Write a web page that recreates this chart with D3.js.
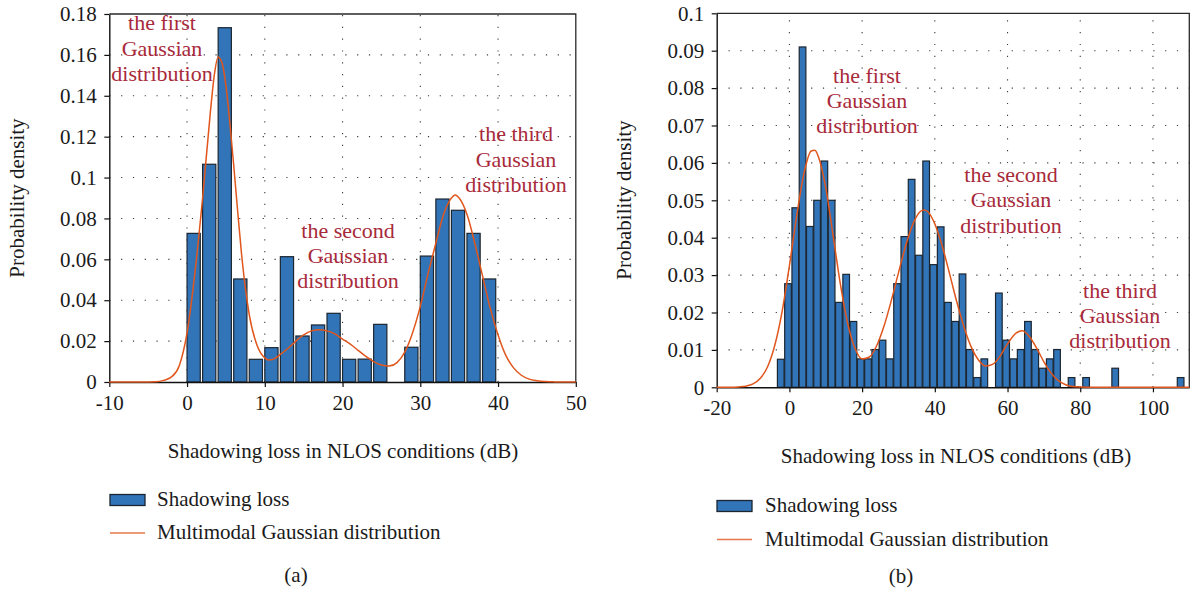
<!DOCTYPE html>
<html>
<head>
<meta charset="utf-8">
<script src="https://d3js.org/d3.v7.min.js"></script>
<style>
  html, body { margin: 0; padding: 0; background: #fff; }
  svg { display: block; }
</style>
</head>
<body>
<svg id="chart" width="1198" height="595"></svg>
<script>
// ---------------- DATA : panel (a) ----------------
const aBinStart = [0, 2, 4, 6, 8, 10, 12, 14, 16, 18, 20, 22, 24, 26, 28, 30, 32, 34, 36, 38];
const aDensity  = [0.0727, 0.1065, 0.1733, 0.0504, 0.0111, 0.0168, 0.0613, 0.0225, 0.0279, 0.0336,
                   0.0111, 0.0112, 0.0282, 0, 0.0170, 0.0616, 0.0895, 0.0840, 0.0727, 0.0504];
const aCurveX = [-10, -6, -4, -3, -2, -1, 0, 1, 2, 3, 3.5, 4, 4.5, 5, 5.5, 6, 6.5, 7, 7.5, 8, 9, 10, 10.5, 11,
                 12, 13, 14, 15, 16, 17, 18, 19, 20, 21, 22, 23, 24, 25, 26, 27, 28, 29, 30, 31, 32, 33, 34,
                 34.5, 35, 36, 37, 38, 39, 40, 41, 42, 43, 44, 45, 46, 47, 48, 50];
const aCurveY = [0, 0, 0.0001, 0.0008, 0.0025, 0.008, 0.024, 0.053, 0.090, 0.132, 0.150, 0.159, 0.156, 0.145,
                 0.127, 0.106, 0.084, 0.063, 0.046, 0.033, 0.018, 0.0118, 0.0108, 0.011,
                 0.0135, 0.0165, 0.020, 0.023, 0.025, 0.0256, 0.025, 0.0235, 0.021, 0.0185, 0.0155, 0.0125,
                 0.010, 0.0083, 0.0078, 0.0095, 0.0146, 0.024, 0.037, 0.053, 0.068, 0.082, 0.090,
                 0.0915, 0.090, 0.082, 0.068, 0.052, 0.036, 0.023, 0.013, 0.0069, 0.0033, 0.0014, 0.0006,
                 0.0002, 0.0001, 0, 0];
const aXTicks = [-10, 0, 10, 20, 30, 40, 50];
const aXTickLabels = ["-10", "0", "10", "20", "30", "40", "50"];
const aYTicks = [0, 0.02, 0.04, 0.06, 0.08, 0.1, 0.12, 0.14, 0.16, 0.18];
const aYTickLabels = ["0", "0.02", "0.04", "0.06", "0.08", "0.1", "0.12", "0.14", "0.16", "0.18"];
const aNotes = [
  ["the first", "Gaussian", "distribution"],
  ["the second", "Gaussian", "distribution"],
  ["the third", "Gaussian", "distribution"]
];

// ---------------- DATA : panel (b) ----------------
const bBinStart = [-3.3, -1.3, 0.7, 2.7, 4.7, 6.7, 8.7, 10.7, 12.7, 14.7, 16.7, 18.7, 20.7, 22.7, 24.7, 26.7,
                   28.7, 30.7, 32.7, 34.7, 36.7, 38.7, 40.7, 42.7, 44.7, 46.7, 48.7, 50.7, 52.7, 54.7, 56.7,
                   58.7, 60.7, 62.7, 64.7, 66.7, 68.7, 70.7, 72.7, 74.7, 76.7, 78.7, 80.7, 82.7, 84.7, 86.7,
                   88.7, 90.7, 92.7, 94.7, 96.7, 98.7, 100.7, 102.7, 104.7, 106.7];
const bDensity  = [0.0075, 0.0277, 0.048, 0.091, 0.043, 0.050, 0.0605, 0.050, 0.0227, 0.0302, 0.0176, 0.0076,
                   0.0076, 0.0101, 0.0126, 0.0076, 0.0277, 0.0403, 0.0556, 0.0353, 0.0605, 0.0328, 0.0429,
                   0.0227, 0.0176, 0.0303, 0.0101, 0.0026, 0.0076, 0, 0.0252, 0.0126, 0.0076, 0.0101, 0.0176,
                   0.0101, 0.0051, 0.0076, 0.0101, 0, 0.0026, 0, 0.0026, 0, 0, 0, 0.0051, 0, 0, 0, 0, 0, 0,
                   0, 0, 0.0026];
const bCurveX = [-20, -18, -16, -14, -12, -10, -8, -6, -4, -2, 0, 2, 4, 6, 7, 8, 10, 12, 14, 16, 18, 20, 22,
                 24, 26, 28, 30, 32, 34, 36, 37, 38, 40, 42, 44, 46, 48, 50, 52, 54, 56, 58, 60, 62, 64, 66,
                 68, 70, 72, 74, 76, 78, 80, 84, 90, 100, 110];
const bCurveY = [0, 0, 0, 0.0001, 0.0003, 0.0009, 0.0024, 0.0055, 0.0113, 0.0203, 0.0325, 0.0458, 0.0572,
                 0.0632, 0.0634, 0.0616, 0.0533, 0.0407, 0.0277, 0.0172, 0.0105, 0.0076, 0.0081, 0.0111,
                 0.0163, 0.0231, 0.0306, 0.0379, 0.0437, 0.0470, 0.0474, 0.0470, 0.0437, 0.0379, 0.0306,
                 0.0230, 0.0162, 0.0108, 0.0073, 0.0057, 0.0062, 0.0084, 0.0116, 0.0142, 0.0151, 0.0136,
                 0.0105, 0.0068, 0.0038, 0.0018, 0.0007, 0.0002, 0.0001, 0, 0, 0, 0];
const bXTicks = [-20, 0, 20, 40, 60, 80, 100];
const bXTickLabels = ["-20", "0", "20", "40", "60", "80", "100"];
const bYTicks = [0, 0.01, 0.02, 0.03, 0.04, 0.05, 0.06, 0.07, 0.08, 0.09, 0.1];
const bYTickLabels = ["0", "0.01", "0.02", "0.03", "0.04", "0.05", "0.06", "0.07", "0.08", "0.09", "0.1"];
const bNotes = aNotes;

// ---------------- shared text ----------------
const xTitle = "Shadowing loss in NLOS conditions (dB)";
const yTitle = "Probability density";
const legendLabels = ["Shadowing loss", "Multimodal Gaussian distribution"];
const panelLabels = ["(a)", "(b)"];

// ---------------- STYLE / LAYOUT ----------------
const FONT = "'Liberation Serif', 'Times New Roman', serif";
const BAR_FILL = "#3274b8";
const BAR_STROKE = "#1c2630";
const CURVE = "#e0561c";
const NOTE = "#a82a3a";
const TXT = "#1a1a1a";

const svg = d3.select("#chart");
svg.append("rect").attr("width", 1198).attr("height", 595).attr("fill", "#fff");

function panel(cfg) {
  const x = d3.scaleLinear().domain(cfg.xDomain).range(cfg.xRange);
  const y = d3.scaleLinear().domain(cfg.yDomain).range(cfg.yRange);
  const g = svg.append("g");
  const [x0, x1] = cfg.xRange, [y0, y1] = cfg.yRange;

  // dotted grid
  const grid = g.append("g").attr("stroke", "#3a3a3a").attr("stroke-width", 1.1)
    .attr("stroke-dasharray", "1.2,10.6");
  grid.selectAll("line.v").data(cfg.xTicks.filter(v => x(v) > x0 + 1 && x(v) < x1 - 1))
    .join("line").attr("x1", d => x(d)).attr("x2", d => x(d)).attr("y1", y0).attr("y2", y1);
  grid.selectAll("line.h").data(cfg.yTicks.filter(v => y(v) < y0 - 1 && y(v) > y1 + 1))
    .join("line").attr("x1", x0).attr("x2", x1).attr("y1", d => y(d)).attr("y2", d => y(d));

  // bars
  g.append("g").selectAll("rect").data(cfg.binStart.map((s, i) => ({ s, v: cfg.density[i] })).filter(d => d.v > 0))
    .join("rect")
    .attr("x", d => x(d.s))
    .attr("width", d => x(d.s + cfg.barW) - x(d.s))
    .attr("y", d => y(d.v))
    .attr("height", d => y(0) - y(d.v))
    .attr("fill", BAR_FILL).attr("stroke", BAR_STROKE).attr("stroke-width", 1.2);

  // frame (top and right)
  g.append("path").attr("d", `M${x0},${y1}H${x1}V${y0}`).attr("fill", "none")
    .attr("stroke", "#2a2a2a").attr("stroke-width", 1.3);

  // axes
  const ax = g.append("g").attr("transform", `translate(0,${y0})`)
    .call(d3.axisBottom(x).tickValues(cfg.xTicks).tickFormat((d, i) => cfg.xLabels[i])
      .tickSize(5).tickSizeOuter(0).tickPadding(8));
  const ay = g.append("g").attr("transform", `translate(${x0},0)`)
    .call(d3.axisLeft(y).tickValues(cfg.yTicks).tickFormat((d, i) => cfg.yLabels[i])
      .tickSize(5).tickSizeOuter(0).tickPadding(7.5));
  [ax, ay].forEach(a => {
    a.select(".domain").attr("stroke", "#111").attr("stroke-width", 1.4);
    a.selectAll(".tick line").attr("stroke", "#111").attr("stroke-width", 1.2);
    a.selectAll(".tick text").attr("font-family", FONT).attr("font-size", 21).attr("fill", TXT);
  });

  // curve
  const line = d3.line().x(d => x(d[0])).y(d => y(d[1])).curve(d3.curveMonotoneX);
  g.append("path").datum(cfg.curveX.map((v, i) => [v, cfg.curveY[i]]))
    .attr("d", line).attr("fill", "none").attr("stroke", CURVE).attr("stroke-width", 1.5);

  // annotations
  cfg.notes.forEach((lines, k) => {
    const pos = cfg.notePos[k];
    lines.forEach((t, j) => {
      g.append("text").attr("x", pos[0]).attr("y", pos[1] + j * pos[2])
        .attr("text-anchor", "middle").attr("font-family", FONT).attr("font-size", 22)
        .attr("fill", NOTE).text(t);
    });
  });

  // axis titles
  g.append("text").attr("x", cfg.xTitlePos[0]).attr("y", cfg.xTitlePos[1]).attr("text-anchor", "middle")
    .attr("font-family", FONT).attr("font-size", 21).attr("fill", TXT).text(xTitle);
  g.append("text").attr("transform", `translate(${cfg.yTitlePos[0]},${cfg.yTitlePos[1]}) rotate(-90)`)
    .attr("text-anchor", "middle").attr("font-family", FONT).attr("font-size", 21).attr("fill", TXT).text(yTitle);

  // legend
  const L = cfg.legend;
  g.append("rect").attr("x", L.x).attr("y", L.y1 - 5.5).attr("width", 35).attr("height", 11)
    .attr("fill", BAR_FILL).attr("stroke", BAR_STROKE).attr("stroke-width", 1.3);
  g.append("line").attr("x1", L.x).attr("x2", L.x + 35).attr("y1", L.y2).attr("y2", L.y2)
    .attr("stroke", CURVE).attr("stroke-width", 1.5).attr("opacity", 0.8);
  [L.y1, L.y2].forEach((yy, i) => {
    g.append("text").attr("x", L.tx).attr("y", yy + 6).attr("font-family", FONT).attr("font-size", 21)
      .attr("fill", TXT).text(legendLabels[i]);
  });

  // panel label
  g.append("text").attr("x", cfg.labelPos[0]).attr("y", cfg.labelPos[1]).attr("text-anchor", "middle")
    .attr("font-family", FONT).attr("font-size", 21).attr("fill", TXT).text(cfg.label);
}

panel({
  xDomain: [-10, 50], xRange: [109.3, 575.8], yDomain: [0, 0.18], yRange: [382, 14],
  xTicks: aXTicks, xLabels: aXTickLabels, yTicks: aYTicks, yLabels: aYTickLabels,
  binStart: aBinStart, density: aDensity, barW: 1.7,
  curveX: aCurveX, curveY: aCurveY,
  notes: aNotes, notePos: [[162, 30, 25.5], [348, 238, 25], [516, 141, 25.5]],
  xTitlePos: [343, 458], yTitlePos: [24, 198],
  legend: { x: 110, tx: 157, y1: 500, y2: 533 },
  label: panelLabels[0], labelPos: [296, 582]
});

panel({
  xDomain: [-20, 110], xRange: [716.7, 1189.3], yDomain: [0, 0.1], yRange: [387.3, 13.3],
  xTicks: bXTicks, xLabels: bXTickLabels, yTicks: bYTicks, yLabels: bYTickLabels,
  binStart: bBinStart, density: bDensity, barW: 1.83,
  curveX: bCurveX, curveY: bCurveY,
  notes: bNotes, notePos: [[867, 83, 25], [1011, 181.5, 25.5], [1120, 298, 25]],
  xTitlePos: [956, 463], yTitlePos: [631, 200],
  legend: { x: 717, tx: 765, y1: 506, y2: 539.5 },
  label: panelLabels[1], labelPos: [901, 583]
});
</script>
</body>
</html>
